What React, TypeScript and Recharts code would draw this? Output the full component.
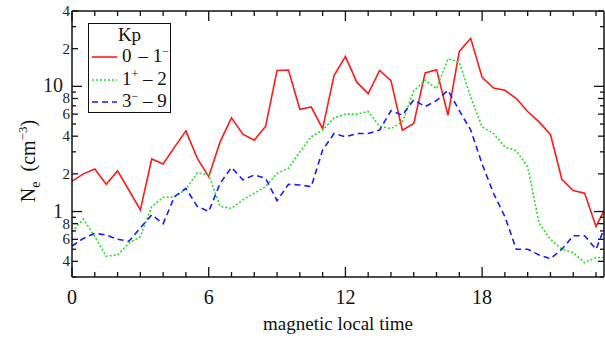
import { LineChart, Line, XAxis, YAxis, Legend, Label } from "recharts"

const FONT = "Liberation Serif"

// magnetic local time (hours)
const mlt = [
  0, 0.5, 1, 1.5, 2, 2.5, 3, 3.5, 4, 4.5, 5, 5.5, 6, 6.5, 7, 7.5, 8, 8.5, 9, 9.5, 10, 10.5, 11, 11.5,
  12, 12.5, 13, 13.5, 14, 14.5, 15, 15.5, 16, 16.5, 17, 17.5, 18, 18.5, 19, 19.5, 20, 20.5, 21, 21.5,
  22, 22.5, 23, 23.5,
]

// Kp 0 - 1-
const neLowKp = [
  1.75, 2.0, 2.19, 1.65, 2.11, 1.48, 1.03, 2.63, 2.4, 3.27, 4.41, 2.66, 1.9, 3.6, 5.6, 4.15, 3.72, 4.81,
  13.4, 13.5, 6.56, 6.84, 4.6, 12.2, 17.3, 10.8, 8.75, 13.4, 11.1, 4.47, 5.05, 12.8, 13.6, 5.88, 19.0,
  24.2, 11.8, 9.7, 9.3, 8.0, 6.3, 5.2, 4.13, 1.81, 1.47, 1.4, 0.76, 1.15,
]

// Kp 1+ - 2
const neMidKp = [
  0.69, 0.87, 0.63, 0.44, 0.45, 0.56, 0.63, 1.1, 1.3, 1.3, 1.51, 2.04, 1.96, 1.1, 1.06, 1.24, 1.4, 1.58,
  2.02, 2.21, 3.0, 3.95, 4.47, 5.6, 6.0, 6.0, 6.3, 4.8, 4.6, 5.2, 9.2, 11.2, 9.6, 16.6, 15.6, 8.2, 4.74,
  4.2, 3.29, 3.06, 2.28, 0.81, 0.6, 0.5, 0.47, 0.39, 0.43, 0.43,
]

// Kp 3- - 9
const neHighKp = [
  0.53, 0.61, 0.67, 0.65, 0.6, 0.58, 0.74, 0.94, 0.8, 1.32, 1.53, 1.1, 1.0, 1.68, 2.25, 1.79, 1.96, 1.84,
  1.22, 1.65, 1.63, 1.58, 3.1, 4.2, 3.95, 4.2, 4.2, 4.47, 6.4, 5.9, 7.8, 6.9, 7.7, 9.3, 6.4, 4.47, 2.4,
  1.4, 0.91, 0.5, 0.5, 0.45, 0.42, 0.5, 0.64, 0.64, 0.5, 0.85,
]

const xTicks = [0, 1, 2, 3, 4, 5, 6, 7, 8, 9, 10, 11, 12, 13, 14, 15, 16, 17, 18, 19, 20, 21, 22, 23]
const xLabels = [0, 6, 12, 18]
const yTicks = [0.3, 0.4, 0.5, 0.6, 0.7, 0.8, 0.9, 1, 2, 3, 4, 5, 6, 7, 8, 9, 10, 20, 30, 40]
const yLabels: Record<string, string> = {
  "0.4": "4", "0.6": "6", "0.8": "8", "1": "1", "2": "2", "4": "4", "6": "6", "8": "8",
  "10": "10", "20": "2", "40": "4",
}

const data = mlt.map((t, i) => ({ t, low: neLowKp[i], mid: neMidKp[i], high: neHighKp[i] }))

const RED = "#ff1a1a"
const GREEN = "#22e022"
const BLUE = "#1a1aff"

const Sup = ({ children }: { children: string }) => (
  <span style={{ fontSize: 12, position: "relative", top: -7 }}>{children}</span>
)

const legendItems = [
  { color: RED, dash: undefined, label: <>0<span style={{ marginLeft: 7 }}>– 1</span><Sup>−</Sup></> },
  { color: GREEN, dash: "2 2", label: <>1<Sup>+</Sup> – 2</> },
  { color: BLUE, dash: "6 4", label: <>3<Sup>−</Sup> – 9</> },
]

function tickLen(v: number) {
  if (v === 1 || v === 10) return 10
  if (yLabels[String(v)]) return 6
  return 4
}

function BottomTick(props: any) {
  const { x, y, payload } = props
  const v = payload.value
  const major = v % 6 === 0
  return (
    <g>
      <line x1={x} x2={x} y1={y} y2={y - (major ? 10 : 5)} stroke="#111" strokeWidth={1.3} />
      {xLabels.includes(v) && (
        <text x={x} y={y + 27} textAnchor="middle" fontSize={20} fontFamily={FONT} fill="#111">
          {v}
        </text>
      )}
    </g>
  )
}

function TopTick(props: any) {
  const { x, y, payload } = props
  const major = payload.value % 6 === 0
  return <line x1={x} x2={x} y1={y} y2={y + (major ? 10 : 5)} stroke="#111" strokeWidth={1.3} />
}

function LeftTick(props: any) {
  const { x, y, payload } = props
  const v = payload.value
  const label = yLabels[String(v)]
  const big = v === 1 || v === 10
  return (
    <g>
      <line x1={x} x2={x + tickLen(v)} y1={y} y2={y} stroke="#111" strokeWidth={1.3} />
      {label && (
        <text
          x={big ? x - 9 : x - 2}
          y={y + (big ? 6 : 5)}
          textAnchor="end"
          fontSize={big ? 20 : 15}
          fontFamily={FONT}
          fill="#222"
        >
          {label}
        </text>
      )}
    </g>
  )
}

function RightTick(props: any) {
  const { x, y, payload } = props
  return <line x1={x} x2={x - tickLen(payload.value)} y1={y} y2={y} stroke="#111" strokeWidth={1.3} />
}

function renderLegend() {
  return (
    <div
      style={{
        border: "1.5px solid #111",
        background: "#fff",
        width: 83,
        height: 90,
        fontFamily: FONT,
        fontSize: 19,
        color: "#111",
        boxSizing: "border-box",
        whiteSpace: "nowrap",
      }}
    >
      <div style={{ textAlign: "center", height: 22, lineHeight: "22px" }}>Kp</div>
      {legendItems.map((it, i) => (
        <div key={i} style={{ display: "flex", alignItems: "center", height: 22.5, lineHeight: "22px" }}>
          <svg width={33} height={22} style={{ flex: "none" }}>
            <line x1={3} x2={28} y1={11} y2={11} stroke={it.color} strokeWidth={1.6} strokeDasharray={it.dash} />
          </svg>
          <span>{it.label}</span>
        </div>
      ))}
    </div>
  )
}

export default function App() {
  return (
    <div style={{ position: "absolute", left: 0, top: 0, background: "#fff" }}>
      <LineChart width={605} height={338} data={data} margin={{ top: 10, right: 0, bottom: 60, left: 71 }}>
        <XAxis
          dataKey="t"
          type="number"
          domain={[0, 23.35]}
          allowDataOverflow
          ticks={xTicks}
          interval={0}
          height={1}
          tickSize={0}
          tickMargin={0}
          tickLine={false}
          tick={<BottomTick />}
          axisLine={{ stroke: "#111", strokeWidth: 1.5 }}
        >
          <Label
            content={() => (
              <text x={338} y={330} textAnchor="middle" fontSize={19} fontFamily={FONT} fill="#111">
                magnetic local time
              </text>
            )}
          />
        </XAxis>
        <XAxis
          xAxisId="top"
          orientation="top"
          dataKey="t"
          type="number"
          domain={[0, 23.35]}
          allowDataOverflow
          ticks={xTicks}
          interval={0}
          height={1}
          tickSize={0}
          tickMargin={0}
          tickLine={false}
          tick={<TopTick />}
          axisLine={{ stroke: "#111", strokeWidth: 1.5 }}
        />
        <YAxis
          scale="log"
          type="number"
          domain={[0.3, 40]}
          allowDataOverflow
          ticks={yTicks}
          interval={0}
          width={1}
          tickSize={0}
          tickMargin={0}
          tickLine={false}
          tick={<LeftTick />}
          axisLine={{ stroke: "#111", strokeWidth: 1.5 }}
        >
          <Label
            content={() => (
              <text
                transform="translate(35,161) rotate(-90)"
                textAnchor="middle"
                fontSize={20}
                fontFamily={FONT}
                fill="#111"
              >
                N
                <tspan fontSize={14} dy={5}>e</tspan>
                <tspan dx={10} dy={-5}>(cm</tspan>
                <tspan fontSize={13} dy={-8}>−3</tspan>
                <tspan dy={8}>)</tspan>
              </text>
            )}
          />
        </YAxis>
        <YAxis
          yAxisId="right"
          orientation="right"
          scale="log"
          type="number"
          domain={[0.3, 40]}
          allowDataOverflow
          ticks={yTicks}
          interval={0}
          width={1}
          tickSize={0}
          tickMargin={0}
          tickLine={false}
          tick={<RightTick />}
          axisLine={{ stroke: "#111", strokeWidth: 1.5 }}
        />
        <Legend
          layout="vertical"
          align="center"
          verticalAlign="middle"
          content={renderLegend}
          wrapperStyle={{ left: 88, top: 23, width: 83, height: 90 }}
        />
        <Line dataKey="low" stroke={RED} strokeWidth={1.6} dot={false} isAnimationActive={false} />
        <Line dataKey="mid" stroke={GREEN} strokeWidth={1.6} strokeDasharray="2 2" dot={false} isAnimationActive={false} />
        <Line dataKey="high" stroke={BLUE} strokeWidth={1.6} strokeDasharray="6 4" dot={false} isAnimationActive={false} />
      </LineChart>
    </div>
  )
}
